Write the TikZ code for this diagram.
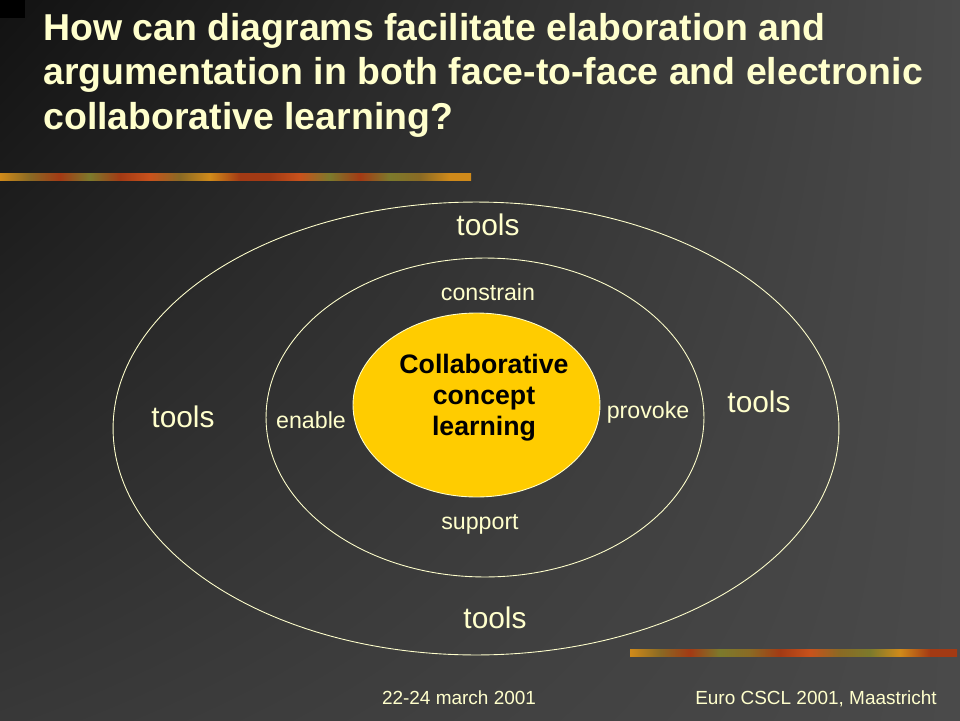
\documentclass[tikz,border=0pt]{standalone}
\usepackage{fontspec}
\setmainfont{Liberation Sans}
\usepackage{xcolor}
\usepackage{tikz}
\usetikzlibrary{positioning,shapes.geometric,shadings}

\definecolor{cream}{HTML}{FFFFCC}
\definecolor{gold}{HTML}{FFCC00}
\definecolor{bgdark}{HTML}{121212}
\definecolor{bgmid}{HTML}{383838}
\definecolor{bglight}{HTML}{4A4A4A}
\definecolor{stA}{HTML}{D08A1A}
\definecolor{stB}{HTML}{A33A14}
\definecolor{stC}{HTML}{7C7A2C}
\definecolor{stD}{HTML}{C8521C}
\definecolor{stE}{HTML}{8A6A24}

\begin{document}
\begin{tikzpicture}[x=0.02cm, y=-0.02cm,
    ring/.style={ellipse, draw=cream, line width=0.5pt, inner sep=0pt},
    tools/.style={text=cream, font=\fontsize{17}{20}\selectfont},
    verb/.style={text=cream, font=\fontsize{13.2}{15}\selectfont},
    title/.style={anchor=base west, text=cream, inner sep=0pt, font=\fontsize{21.3}{24}\selectfont\bfseries},
    foot/.style={anchor=base, text=cream, inner sep=0pt, font=\fontsize{10.8}{12}\selectfont},
]
\useasboundingbox (0,0) rectangle (960,720);

% Background
\shade[upper left=bgdark, upper right=bglight, lower left=bgmid, lower right=bglight] (0,0) rectangle (960,720);
\fill[black] (0,0) rectangle (25,18);

% Title
\node[title] (title1) at (43,40) {How can diagrams facilitate elaboration and};
\node[title] (title2) at (43,84.5) {argumentation in both face-to-face and electronic};
\node[title] (title3) at (43,129) {collaborative learning?};

% Strips
\foreach \a/\ca/\cb in {0/stA/stE, 30/stE/stB, 60/stB/stC, 90/stC/stB, 120/stB/stD, 150/stD/stE,
    180/stE/stA, 210/stA/stB, 240/stB/stB, 270/stB/stD, 300/stD/stC, 330/stC/stB, 360/stB/stC,
    390/stC/stE, 420/stE/stA, 450/stA/stA}
  \shade[left color=\ca, right color=\cb] (\a,173) rectangle ({min(\a+30,471)},180);
\foreach \a/\ca/\cb in {630/stA/stE, 660/stE/stB, 690/stB/stC, 720/stC/stE, 750/stE/stB,
    780/stB/stD, 810/stD/stE, 840/stE/stC, 870/stC/stA, 900/stA/stB, 930/stB/stB}
  \shade[left color=\ca, right color=\cb] (\a,649) rectangle ({min(\a+30,957)},656);

% Rings
\node[ring, minimum width=14.52cm, minimum height=9.06cm] (outer) at (476,428.5) {};
\node[ring, minimum width=8.76cm, minimum height=6.38cm] (middle) at (485,417.5) {};
\node[ring, fill=gold, minimum width=4.94cm, minimum height=3.68cm] (core) at (476.5,405) {};
\node[align=center, font=\fontsize{15.2}{17.6}\selectfont\bfseries] (concept) at (484,398)
    {Collaborative\\concept\\learning};

% Tools
\node[tools] (toolsN) at (488,225) {tools};
\node[tools] (toolsW) at (183,417) {tools};
\node[tools] (toolsE) at (759,402) {tools};
\node[tools] (toolsS) at (495,618) {tools};

% Verbs
\node[verb] (constrain) at (488,292) {constrain};
\node[verb] (enable) at (311,420) {enable};
\node[verb] (provoke) at (648,412) {provoke};
\node[verb] (support) at (480,524) {support};

% Footer
\node[foot] (date) at (459,704) {22-24 march 2001};
\node[foot] (venue) at (816,704) {Euro CSCL 2001, Maastricht};
\end{tikzpicture}
\end{document}
